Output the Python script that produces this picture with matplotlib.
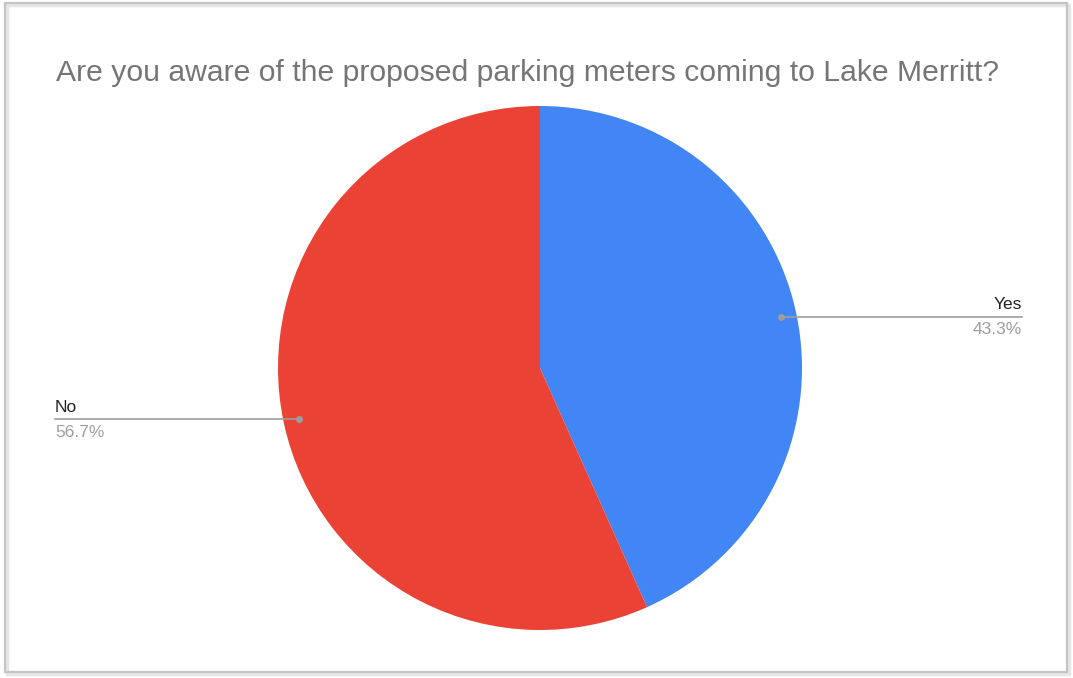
import matplotlib.pyplot as plt
from matplotlib.patches import Rectangle
import numpy as np

# Datos de la encuesta
labels = ["Yes", "No"]
values = [43.3, 56.7]
colors = ["#4285F4", "#EA4335"]
title = "Are you aware of the proposed parking meters coming to Lake Merritt?"

W, H = 1073, 678
fig = plt.figure(figsize=(W / 100, H / 100), dpi=100)
fig.patch.set_facecolor("white")

# Marco gris alrededor del gráfico
fig.patches.append(Rectangle((5 / W, 6 / H), 1062 / W, 669 / H, transform=fig.transFigure,
                             fill=False, edgecolor="#c4c4c4", linewidth=1.6))
fig.patches.append(Rectangle((7 / W, 4 / H), 1062 / W, 669 / H, transform=fig.transFigure,
                             fill=False, edgecolor="#e6e6e6", linewidth=2.5, zorder=-1))

# Ejes del pastel (centro ~ (540, 368), radio ~ 262 px)
cx, cy, r = 540, 368, 262
ax = fig.add_axes([(cx - r) / W, (H - cy - r) / H, 2 * r / W, 2 * r / H])
wedges, _ = ax.pie(values, colors=colors, startangle=90, counterclock=False, radius=1)
ax.set_xlim(-1, 1)
ax.set_ylim(-1, 1)
ax.axis("off")

# Líneas guía y etiquetas
total = sum(values)
start = 90.0
for lab, v, w in zip(labels, values, wedges):
    mid = start - v / total * 360 / 2
    start -= v / total * 360
    ang = np.deg2rad(mid)
    px, py = 0.94 * np.cos(ang), 0.94 * np.sin(ang)
    if np.cos(ang) > 0:
        xend, ha = (1022 - cx) / r, "right"
    else:
        xend, ha = (55 - cx) / r, "left"
    ax.plot([px, xend], [py, py], color="#9e9e9e", lw=1.2, clip_on=False)
    ax.plot(px, py, "o", color="#9e9e9e", ms=4, clip_on=False)
    ax.text(xend, py + 0.018, lab, ha=ha, va="bottom", fontsize=12.5,
            family="Liberation Sans", color="#222222", clip_on=False)
    ax.text(xend, py - 0.02, f"{v:.1f}%", ha=ha, va="top", fontsize=12.5,
            family="Liberation Sans", color="#9e9e9e", clip_on=False)

fig.text(56 / W, 1 - 73 / H, title, ha="left", va="center", fontsize=21.7,
         family="Liberation Sans", color="#757575")

plt.savefig("out.png", dpi=100)
plt.close()
